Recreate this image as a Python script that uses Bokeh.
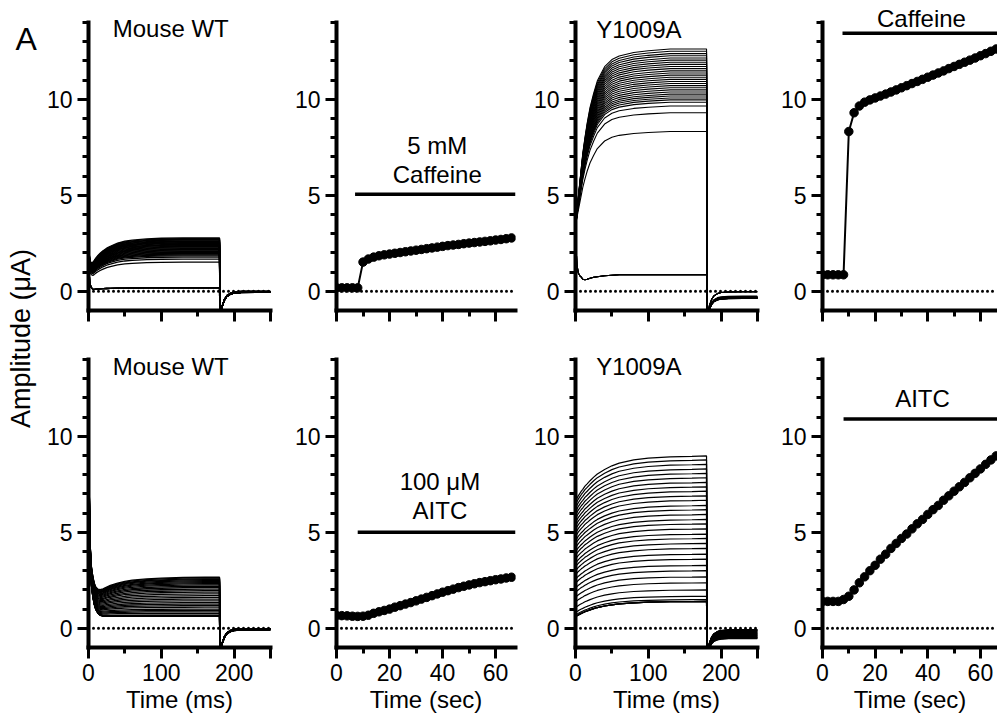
from bokeh.plotting import figure
from bokeh.layouts import row, column
from bokeh.models import Range1d, FixedTicker, Span, Label, Title
from bokeh.core.properties import value
from bokeh.embed import file_html
from bokeh.resources import INLINE
import math

FONT = "Liberation Sans"

# ---------------- data ----------------
# time-course sampling (s)
t_sec = [0, 2, 4, 6, 8, 10, 12, 14, 16, 18, 20, 22, 24, 26, 28, 30, 32,
         34, 36, 38, 40, 42, 44, 46, 48, 50, 52, 54, 56, 58, 60, 62, 64, 66]
# Mouse WT, 5 mM caffeine (uA)
caf_wt = [0.18, 0.18, 0.18, 0.18, 0.18, 1.52, 1.68, 1.78, 1.85, 1.90, 1.94, 1.98,
          2.02, 2.06, 2.10, 2.14, 2.18, 2.22, 2.26, 2.30, 2.34, 2.38, 2.41, 2.44,
          2.48, 2.51, 2.54, 2.57, 2.60, 2.63, 2.67, 2.70, 2.74, 2.78]
# Y1009A, caffeine
caf_y = [0.86, 0.86, 0.86, 0.86, 0.86, 8.32, 9.30, 9.65, 9.85, 9.97, 10.07, 10.17,
         10.27, 10.38, 10.49, 10.60, 10.71, 10.82, 10.93, 11.04, 11.15, 11.26, 11.37,
         11.48, 11.60, 11.71, 11.82, 11.93, 12.04, 12.15, 12.27, 12.38, 12.50, 12.62]
# Mouse WT, 100 uM AITC
aitc_wt = [0.67, 0.66, 0.65, 0.63, 0.62, 0.63, 0.68, 0.78, 0.86, 0.93, 1.00, 1.10,
           1.18, 1.26, 1.34, 1.43, 1.52, 1.61, 1.70, 1.79, 1.88, 1.96, 2.04, 2.12,
           2.19, 2.26, 2.32, 2.38, 2.43, 2.48, 2.53, 2.57, 2.62, 2.66]
# Y1009A, AITC
aitc_y = [1.40, 1.40, 1.40, 1.40, 1.50, 1.67, 2.00, 2.37, 2.68, 3.00, 3.28, 3.60,
          3.86, 4.16, 4.42, 4.68, 4.91, 5.18, 5.44, 5.67, 5.93, 6.18, 6.40, 6.67,
          6.90, 7.14, 7.37, 7.60, 7.84, 8.07, 8.30, 8.54, 8.77, 8.98]
# drug application start (s) and bar level (uA)
caf_start, caf_bar_wt, caf_bar_y = 7.0, 5.05, 13.44
aitc_start, aitc_bar_wt, aitc_bar_y = 8.0, 5.0, 10.9

# current traces (ms): time grid of the pulse, activation profiles
t_on = [0, 1, 2, 4, 6, 8, 10, 13, 16, 20, 25, 30, 40, 50, 60, 80, 100, 130, 160, 180]
rise_wt_caf = [0, 0.04, 0.09, 0.17, 0.24, 0.30, 0.37, 0.45, 0.52, 0.60, 0.68, 0.74,
               0.84, 0.90, 0.93, 0.97, 0.99, 1.0, 1.0, 1.0]
rise_wt_aitc = [0, 0.03, 0.06, 0.12, 0.18, 0.23, 0.28, 0.35, 0.41, 0.49, 0.57, 0.64,
                0.74, 0.82, 0.87, 0.93, 0.96, 0.99, 1.0, 1.0]
rise_y_caf = [0, 0.04, 0.09, 0.17, 0.25, 0.33, 0.41, 0.50, 0.58, 0.67, 0.75, 0.82,
              0.90, 0.94, 0.96, 0.98, 0.99, 1.0, 1.0, 1.0]
fall_y_caf = [0, 0.5, 0.8, 0.97, 1.02, 1.05, 1.09, 1.10, 1.09, 1.07, 1.05, 1.04,
              1.02, 1.01, 1.0, 1.0, 1.0, 1.0, 1.0, 1.0]
rise_y_aitc = [0, 0.03, 0.06, 0.12, 0.17, 0.22, 0.26, 0.33, 0.38, 0.45, 0.53, 0.60,
               0.70, 0.78, 0.84, 0.91, 0.95, 0.98, 0.99, 1.0]
spike_wt_caf = [12, 0.8, 0.3, 0.1, 0, 0, 0, 0, 0, 0, 0, 0, 0, 0, 0, 0, 0, 0, 0, 0]
spike_wt_aitc = [12, 6.0, 3.0, 1.6, 1.0, 0.6, 0.35, 0.15, 0.05, 0, 0, 0, 0, 0, 0, 0, 0, 0, 0, 0]
# tail after the pulse
t_off = [180.5, 182, 184, 187, 190, 195, 200, 210, 230, 250]
recov = [1.0, 0.7, 0.45, 0.25, 0.14, 0.06, 0.025, 0.005, 0.0, 0.0]
tail_dip = -1.6

# ---------------- geometry ----------------
PX_Y = 19.2
TOP_PAD = 8
TOP_H, BOT_H = 335, 385
TOP_FRAME_H, BOT_FRAME_H = 302, 312
top_yr = (-1, -1 + TOP_FRAME_H / PX_Y)
bot_yr = (-1, -1 + BOT_FRAME_H / PX_Y)
TXT_DY = 9 / PX_Y   # compensates the renderer's baseline placement of text glyphs

cols = [  # width, min_border_left, min_border_right, x range
    dict(w=248, l=46, r=20, xr=(0, 250)),
    dict(w=239, l=46, r=14, xr=(0, 67.5)),
    dict(w=247, l=46, r=19, xr=(0, 250)),
    dict(w=221, l=46, r=0, xr=(0, 66.5)),
]
TICK_FS = "23px"
ANN_FS = "24px"


def build_traces(plateaus, rise, c0, c1, k, spike=None, fall=None):
    xs, ys = [], []
    for P in plateaus:
        y0 = c0 + c1 * P
        prof = fall if (fall is not None and P < y0) else rise
        on = [y0 + (P - y0) * f for f in prof]
        if spike is not None:
            on = [a + b for a, b in zip(on, spike)]
        tail = -k * P
        off = [tail + (tail_dip - tail) * g for g in recov]
        xs.append(t_on + t_off)
        ys.append(on + off)
    return xs, ys


def make_panel(ci, toprow, ms):
    c = cols[ci]
    h = TOP_H if toprow else BOT_H
    fh = TOP_FRAME_H if toprow else BOT_FRAME_H
    yr = top_yr if toprow else bot_yr
    mbt = TOP_PAD if toprow else 0
    p = figure(width=c["w"], height=h, x_range=Range1d(*c["xr"]), y_range=Range1d(*yr),
               output_backend="svg", toolbar_location=None,
               min_border_left=c["l"], min_border_right=c["r"],
               min_border_top=mbt, min_border_bottom=h - fh - mbt)
    p.grid.visible = False
    p.outline_line_color = None
    p.background_fill_color = "white"
    p.border_fill_color = "white"
    if ms:
        p.xaxis.ticker = FixedTicker(ticks=[0, 100, 200, 250], minor_ticks=[50, 150])
        overrides = {250: ""}
    else:
        p.xaxis.ticker = FixedTicker(ticks=[0, 20, 40, 60], minor_ticks=[10, 30, 50])
        overrides = {}
    p.yaxis.ticker = FixedTicker(ticks=[0, 5, 10],
                                 minor_ticks=[1, 2, 3, 4, 6, 7, 8, 9, 11, 12, 13, 14])
    p.yaxis.bounds = (-1, 14)
    for ax in p.axis:
        ax.axis_line_width = 4
        ax.axis_line_color = "black"
        ax.axis_line_cap = "square"
        ax.major_tick_line_width = 3
        ax.minor_tick_line_width = 3
        ax.major_tick_line_color = "black"
        ax.minor_tick_line_color = "black"
        ax.major_tick_out = 11
        ax.major_tick_in = 0
        ax.minor_tick_out = 6
        ax.minor_tick_in = 0
        ax.major_label_text_font = FONT
        ax.major_label_text_font_size = TICK_FS
        ax.major_label_text_color = "black"
        ax.major_label_standoff = 5
    p.xaxis.major_label_overrides = overrides
    if toprow:
        p.xaxis.major_label_text_font_size = "0px"
        p.xaxis.major_label_standoff = 0
        p.xaxis.major_label_overrides = {0: "", 20: "", 40: "", 60: "", 100: "", 200: "", 250: ""}
    p.add_layout(Span(location=0, dimension="width", line_color="black", line_width=3,
                      line_dash="0 5", line_cap="round"))
    return p


def add_text(p, x, y, s, size=ANN_FS):
    p.text(x=[x], y=[y + TXT_DY], text=[s], text_font=value(FONT), text_font_size=size,
           text_align="center", text_baseline="alphabetic", text_color="black")


def add_timecourse(p, vals):
    p.line(t_sec, vals, line_color="black", line_width=2)
    p.scatter(t_sec, vals, size=8.5, marker="circle", color="black")


def add_bar(p, start, level):
    p.line([start, p.x_range.end], [level, level], line_color="black", line_width=3.5)


def add_xtitle(p, ci, xc, s):
    x0, x1 = cols[ci]["xr"]
    fw = cols[ci]["w"] - cols[ci]["l"] - cols[ci]["r"]
    off = (xc - (x0 + x1) / 2) * fw / (x1 - x0)
    p.add_layout(Title(text=s, align="center", offset=off, text_font=FONT,
                       text_font_size="24px", text_font_style="normal",
                       text_color="black", standoff=0), "below")


# ---------------- top row (caffeine) ----------------
p1 = make_panel(0, True, True)
xs, ys = build_traces(caf_wt, rise_wt_caf, 0.0, 0.4, 0.02, spike=spike_wt_caf)
p1.multi_line(xs, ys, line_color="black", line_width=1.3)
add_text(p1, 113, 13.2, "Mouse WT")

p2 = make_panel(1, True, False)
add_bar(p2, caf_start, caf_bar_wt)
add_text(p2, 38, 7.13, "5 mM")
add_text(p2, 38, 5.61, "Caffeine")
add_timecourse(p2, caf_wt)

p3 = make_panel(2, True, True)
xs, ys = build_traces(caf_y, rise_y_caf, 3.4, 0.0, 0.03, fall=fall_y_caf)
p3.multi_line(xs, ys, line_color="black", line_width=1.1)
add_text(p3, 87, 13.15, "Y1009A")

p4 = make_panel(3, True, False)
add_bar(p4, caf_start + 0.6, caf_bar_y)
add_text(p4, 37.6, 13.72, "Caffeine")
add_timecourse(p4, caf_y)

# ---------------- bottom row (AITC) ----------------
p5 = make_panel(0, False, True)
xs, ys = build_traces(aitc_wt, rise_wt_aitc, 0.38, 0.41, 0.03, spike=spike_wt_aitc)
p5.multi_line(xs, ys, line_color="black", line_width=1.3)
add_text(p5, 113, 13.17, "Mouse WT")
add_xtitle(p5, 0, 101, "Time (ms)")

p6 = make_panel(1, False, False)
add_bar(p6, aitc_start, aitc_bar_wt)
add_text(p6, 39, 7.18, "100 μM")
add_text(p6, 39, 5.67, "AITC")
add_timecourse(p6, aitc_wt)
add_xtitle(p6, 1, 27.5, "Time (sec)")

p7 = make_panel(2, False, True)
xs, ys = build_traces(aitc_y, rise_y_aitc, -0.51, 0.795, 0.06)
p7.multi_line(xs, ys, line_color="black", line_width=1.2)
add_text(p7, 87, 13.17, "Y1009A")
add_xtitle(p7, 2, 110, "Time (ms)")

p8 = make_panel(3, False, False)
add_bar(p8, aitc_start, aitc_bar_y)
add_text(p8, 38, 11.5, "AITC")
add_timecourse(p8, aitc_y)
add_xtitle(p8, 3, 27, "Time (sec)")

# ---------------- left strip: panel letter and y title ----------------
LW, LH = 42, TOP_H + BOT_H
pl = figure(width=LW, height=LH, x_range=Range1d(0, LW), y_range=Range1d(0, LH),
            output_backend="svg", toolbar_location=None,
            min_border_left=0, min_border_right=0, min_border_top=0, min_border_bottom=0)
pl.axis.visible = False
pl.grid.visible = False
pl.outline_line_color = None
pl.add_layout(Label(x=15, y=LH - 48 + 10, text="A", text_font=FONT, text_font_size="32px",
                    text_align="left", text_baseline="alphabetic", text_color="black"))
pl.add_layout(Label(x=20, y=LH - 338, text="Amplitude (μA)", text_font=FONT,
                    text_font_size="27px", text_align="center", text_baseline="alphabetic",
                    angle=math.pi / 2, text_color="black"))

layout = row(pl, column(row(p1, p2, p3, p4), row(p5, p6, p7, p8)))
open("out.html", "w").write(file_html(layout, INLINE))
